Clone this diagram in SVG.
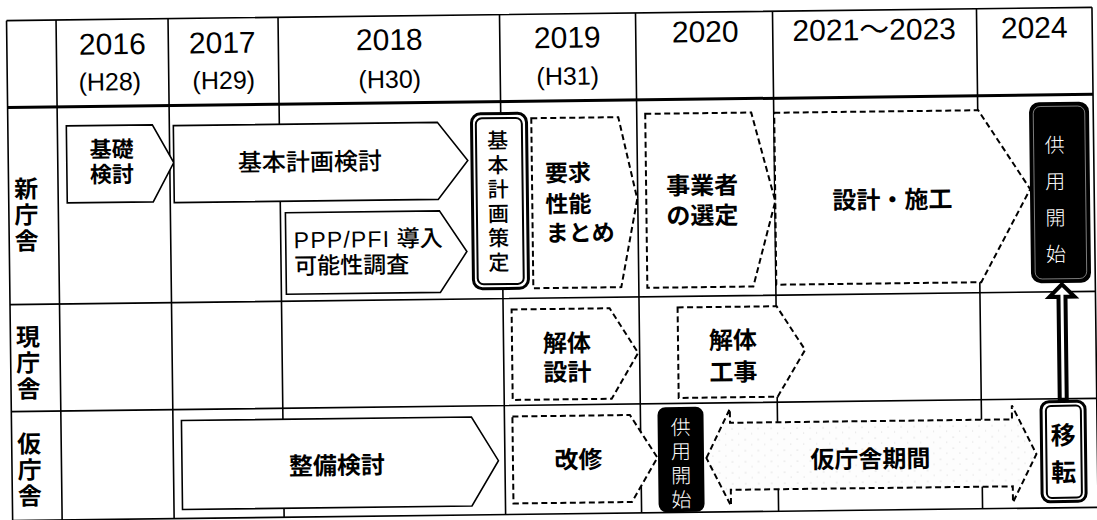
<svg xmlns="http://www.w3.org/2000/svg" width="1097" height="520" viewBox="0 0 1097 520">
<defs>
<style>
.g{stroke:#000;stroke-width:1.6;fill:none}
.sb{fill:#fff;stroke:#000;stroke-width:1.6;stroke-linejoin:miter}
.db{fill:#fff;stroke:#000;stroke-width:2;stroke-dasharray:6 3.5}
.t{font-family:"Noto Sans CJK JP","Liberation Sans",sans-serif;font-weight:bold;fill:#000;dominant-baseline:central;text-anchor:middle}
.t2{font-family:"Liberation Sans","Noto Sans CJK JP",sans-serif;font-weight:bold;fill:#000;dominant-baseline:central;text-anchor:middle}
.v{font-family:"Noto Sans CJK JP",sans-serif;font-weight:bold;fill:#000;writing-mode:vertical-rl;text-anchor:start}
.s{text-anchor:start}
.n{font-weight:500}
.w{fill:#fff;font-weight:300}
.yr{font-family:"Liberation Sans","Noto Sans CJK JP",sans-serif;font-size:30px;fill:#000;text-anchor:middle}
.hs{font-family:"Liberation Sans",sans-serif;font-size:25px;fill:#000;text-anchor:middle}
.lab{font-size:24px;letter-spacing:2px}
.f21{font-size:21px}.f22{font-size:22px}.f23{font-size:23px}.f24{font-size:24px}.f20{font-size:20px}.f25{font-size:25px}
</style>
<pattern id="stip" width="13" height="11" patternUnits="userSpaceOnUse">
<rect width="13" height="11" fill="#fdfdfd"/>
<circle cx="2" cy="2" r="0.55" fill="#c0c0c0"/>
<circle cx="8.5" cy="7" r="0.5" fill="#cccccc"/>
</pattern>
</defs>
<rect width="1097" height="520" fill="#fff"/>
<g transform="rotate(-0.7 550 260)">
<g id="grid">
<path class="g" d="M9.5 14H1095M9.5 298H1095M9.5 405H1095M9.5 514H1095"/>
<path class="g" d="M9.5 14V514M59 14V514M171 14V514M281 14V514M502.5 14V514M638.5 14V514M775.5 14V514M979.5 14V514M1095 14V514"/>
<path d="M9.5 101H1095" stroke="#000" stroke-width="3"/>
</g>
<g id="header">
<text class="yr" x="115" y="49">2016</text>
<text class="hs" x="112" y="85">(H28)</text>
<text class="yr" x="225" y="49">2017</text>
<text class="hs" x="226" y="85">(H29)</text>
<text class="yr" x="392" y="48">2018</text>
<text class="hs" x="392" y="86">(H30)</text>
<text class="yr" x="570" y="48">2019</text>
<text class="hs" x="570" y="85">(H31)</text>
<text class="yr" x="708" y="44">2020</text>
<text class="yr" x="877" y="44">2021〜2023</text>
<text class="yr" x="1037" y="44">2024</text>
</g>
<g id="row-labels">
<text class="v lab" x="27" y="170">新庁舎</text>
<text class="v lab" x="27" y="318">現庁舎</text>
<text class="v lab" x="27" y="425">仮庁舎</text>
</g>
<g id="connectors">
<polygon points="1058,406 1058,303 1049,303 1061.5,290.5 1074,303 1065,303 1065,406" fill="#fff" stroke="#000" stroke-width="4"/>
</g>
<g id="kiso-kento">
<polygon class="sb" points="68,120 154,120 175,158 154,197 68,197"/>
<text class="t2 f22"><tspan x="113" y="144">基礎</tspan><tspan x="113" y="169">検討</tspan></text>
</g>
<g id="kihon-keikaku-kento">
<polygon class="sb" points="175,121 439,121 469,159.5 439,198 175,198"/>
<text class="t n f24" x="311" y="157">基本計画検討</text>
</g>
<g id="ppp-pfi">
<polygon class="sb" points="286,209.5 440,209.5 467,250.5 440,291 286,291"/>
<text class="t2 n f23 s"><tspan x="294" y="237"><tspan letter-spacing="1.2">PPP/PFI</tspan> 導入</tspan><tspan x="294" y="263">可能性調査</tspan></text>
</g>
<g id="kihon-keikaku-sakutei">
<rect x="473.2" y="112.9" width="55" height="175" rx="9" fill="#fff" stroke="#000" stroke-width="3"/>
<rect x="477.5" y="117.5" width="46" height="166" rx="6" fill="none" stroke="#000" stroke-width="2"/>
<text class="v n f21" x="499" y="129" letter-spacing="3.4">基本計画策定</text>
</g>
<g id="yokyu-seino">
<polygon class="db" points="533,118 620,118 638,200 621,288 533,288"/>
<text class="t2 f23 s"><tspan x="546" y="173.4">要求</tspan><tspan x="546" y="204.4">性能</tspan><tspan x="546" y="233.4">まとめ</tspan></text>
</g>
<g id="jigyosha-sentei">
<polygon class="db" points="647,115 753,115 776,204 753,289 647,289"/>
<text class="t2 f24"><tspan x="703" y="187">事業者</tspan><tspan x="703" y="217">の選定</tspan></text>
</g>
<g id="sekkei-seko">
<polygon class="db" points="776,115.5 980,115.5 1031,195 981,287.5 776,287.5"/>
<text class="t f24" x="893" y="202">設計・施工</text>
</g>
<g id="kyoyo-kaishi-new">
<rect x="1030.8" y="108.2" width="60" height="181" rx="10" fill="#000"/>
<rect x="1035" y="112.5" width="51.5" height="172.5" rx="7" fill="none" stroke="#fff" stroke-width="0.8" opacity="0.6"/>
<text class="v w f20" x="1056" y="141" letter-spacing="16.3">供用開始</text>
</g>
<g id="kaitai-sekkei">
<polygon class="db" points="511,309 609,309 637,354 610,399.5 511,399.5"/>
<text class="t2 f24"><tspan x="566" y="343">解体</tspan><tspan x="566" y="372">設計</tspan></text>
</g>
<g id="kaitai-koji">
<polygon class="db" points="677,309 776,309 804,353 776,399.5 677,399.5"/>
<text class="t2 f24"><tspan x="732" y="342">解体</tspan><tspan x="732" y="374">工事</tspan></text>
</g>
<g id="seibi-kento">
<polygon class="sb" points="179.5,416 469.5,416 496,460 469,505 179.5,505"/>
<text class="t f24" x="334.5" y="461">整備検討</text>
</g>
<g id="kaishu">
<polygon class="db" points="510.5,416 628,416 655,459 629,503 510.5,503"/>
<text class="t f24" x="576" y="458">改修</text>
</g>
<g id="kyoyo-kaishi-temp">
<rect x="655.6" y="408.6" width="46" height="105" rx="8" fill="#000"/>
<text class="v w f20" x="678.6" y="418.6" letter-spacing="4.1">供用開始</text>
</g>
<g id="kari-chosha-kikan">
<polygon points="704,460 728,411 728,425 1010,425 1010,411 1034,460 1010,508 1010,492 728,492 728,508" fill="url(#stip)" stroke="#000" stroke-width="2" stroke-dasharray="6 3.5"/>
<text class="t f24" x="868" y="461">仮庁舎期間</text>
</g>
<g id="iten">
<rect x="1039.2" y="407.8" width="44" height="100" rx="8" fill="#fff" stroke="#000" stroke-width="3"/>
<rect x="1044" y="412" width="35" height="92" rx="5" fill="none" stroke="#000" stroke-width="2"/>
<text class="v f25" x="1061" y="428.5" letter-spacing="12">移転</text>
</g>
</g>
</svg>
